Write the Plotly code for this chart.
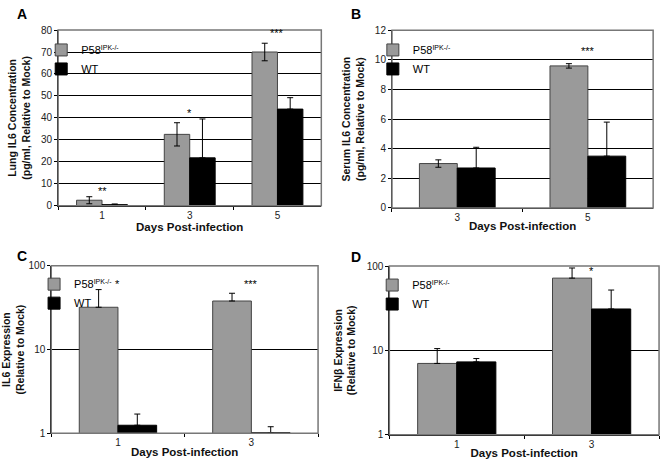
"""Four-panel IL6 / IFNb bar chart (P58IPK-/- vs WT)."""

import math

import plotly.graph_objects as go

FONT = "Liberation Sans, Arial, sans-serif"
GRAY = "#9a9a9a"
BLACK = "#000000"

# Panel A: lung IL6
a_days = ["1", "3", "5"]
a_p58 = [2.5, 32.5, 70.0]
a_p58_err = [1.6, 5.3, 4.0]
a_wt = [0.5, 21.8, 44.0]
a_wt_err = [0.3, 17.7, 5.2]
a_stars = ["**", "*", "***"]
a_star_y = [6.5, 42.0, 78.5]

# Panel B: serum IL6
b_days = ["3", "5"]
b_p58 = [3.0, 9.6]
b_p58_err = [0.25, 0.15]
b_wt = [2.7, 3.5]
b_wt_err = [1.4, 2.3]
b_stars = ["", "***"]
b_star_y = [0, 10.6]

# Panel C: IL6 expression (log)
c_days = ["1", "3"]
c_p58 = [32.0, 38.0]
c_p58_err = [20.0, 9.0]
c_wt = [1.25, 1.02]
c_wt_err = [0.45, 0.18]
c_stars = ["*", "***"]
c_star_y = [60.0, 60.0]

# Panel D: IFNb expression (log)
d_days = ["1", "3"]
d_p58 = [7.0, 72.0]
d_p58_err = [3.5, 23.0]
d_wt = [7.3, 31.0]
d_wt_err = [0.7, 21.0]
d_stars = ["", "*"]
d_star_y = [0, 88.0]

P58_NAME = "P58<sup><span style='font-size:7px'>IPK-/-</span></sup>"

panels = [
    dict(days=a_days, p58=a_p58, p58e=a_p58_err, wt=a_wt, wte=a_wt_err,
         stars=a_stars, sy=a_star_y, log=False, rng=[0, 80], dtick=10,
         title="Lung IL6 Concentration<br>(pg/ml, Relative to Mock)",
         xd=[0.0711, 0.4766], yd=[0.5591, 0.9469], letter="A",
         lx=3, ly=8.5, leg=dict(x=0.045, y=0.935)),
    dict(days=b_days, p58=b_p58, p58e=b_p58_err, wt=b_wt, wte=b_wt_err,
         stars=b_stars, sy=b_star_y, log=False, rng=[0, 12], dtick=2,
         title="Serum IL6 Concentration<br>(pg/ml, Relative to Mock)",
         xd=[0.5855, 0.9879], yd=[0.5542, 0.9462], letter="B",
         lx=343, ly=8.5, leg=dict(x=0.556, y=0.935)),
    dict(days=c_days, p58=c_p58, p58e=c_p58_err, wt=c_wt, wte=c_wt_err,
         stars=c_stars, sy=c_star_y, log=True, rng=[0, 2], dtick=1,
         title="IL6 Expression<br>(Relative to Mock)",
         xd=[0.0605, 0.4716], yd=[0.0566, 0.4265], letter="C",
         lx=3, ly=257, leg=dict(x=0.034, y=0.418)),
    dict(days=d_days, p58=d_p58, p58e=d_p58_err, wt=d_wt, wte=d_wt_err,
         stars=d_stars, sy=d_star_y, log=True, rng=[0, 2], dtick=1,
         title="IFN\u03b2 Expression<br>(Relative to Mock)",
         xd=[0.5814, 0.9970], yd=[0.0538, 0.4258], letter="D",
         lx=343, ly=258, leg=dict(x=0.555, y=0.416)),
]

fig = go.Figure()
shapes = []
annotations = []
layout = {}

for i, p in enumerate(panels):
    n = "" if i == 0 else str(i + 1)
    xa, ya = "x" + n, "y" + n
    leg = "legend" + n
    # on the log panels only the upper half of each error bar is drawn
    p58_minus = [0] * len(p["p58e"]) if p["log"] else p["p58e"]
    fig.add_trace(go.Bar(
        x=p["days"], y=p["p58"], name=P58_NAME,
        xaxis=xa, yaxis=ya, legend=leg, offsetgroup="p58",
        marker=dict(color=GRAY, line=dict(color="#444444", width=1)),
        error_y=dict(type="data", array=p["p58e"], arrayminus=p58_minus,
                     color="black", thickness=1, width=3),
    ))
    fig.add_trace(go.Bar(
        x=p["days"], y=p["wt"], name="WT",
        xaxis=xa, yaxis=ya, legend=leg, offsetgroup="wt",
        marker=dict(color=BLACK, line=dict(color="#000000", width=1)),
        error_y=dict(type="data", array=p["wte"], arrayminus=[0] * len(p["wte"]),
                     color="black", thickness=1, width=3),
    ))

    layout["xaxis" + n] = dict(
        domain=p["xd"], anchor=ya, type="category",
        range=[-0.5, len(p["days"]) - 0.5],
        showline=True, linecolor="black", linewidth=1,
        ticks="outside", tickson="boundaries", ticklen=3, tickcolor="black",
        tickfont=dict(family=FONT, size=10, color="#222"),
        title=dict(text="<b>Days Post-infection</b>", standoff=0,
                   font=dict(family=FONT, size=11.5, color="#111")),
        showgrid=False,
    )
    yax = dict(
        domain=p["yd"], anchor=xa,
        showline=True, linecolor="black", linewidth=1,
        ticks="outside", ticklen=3, tickcolor="black",
        tickfont=dict(family=FONT, size=10, color="#222"),
        title=dict(text="<b>" + p["title"] + "</b>", standoff=8,
                   font=dict(family=FONT, size=10.5, color="#111")),
        showgrid=True, gridcolor="black", gridwidth=1, zeroline=False,
    )
    if p["log"]:
        yax.update(type="log", range=p["rng"], tickvals=[1, 10, 100])
    else:
        yax.update(range=p["rng"], dtick=p["dtick"])
    layout["yaxis" + n] = yax

    layout[leg] = dict(
        x=p["leg"]["x"], y=p["leg"]["y"], xanchor="left", yanchor="top",
        bgcolor="rgba(0,0,0,0)", borderwidth=0, itemwidth=30,
        tracegroupgap=0, traceorder="normal",
        font=dict(family=FONT, size=11, color="black"),
    )

    shapes.append(dict(type="rect", xref=xa + " domain", yref=ya + " domain",
                       x0=0, x1=1, y0=0, y1=1, layer="above",
                       line=dict(color="#777777", width=1.5)))

    for k, (s, sy) in enumerate(zip(p["stars"], p["sy"])):
        if s:
            annotations.append(dict(
                x=k, y=math.log10(sy) if p["log"] else sy,
                xref=xa, yref=ya, text=s, showarrow=False,
                font=dict(family=FONT, size=11, color="black"), yanchor="middle",
            ))

    annotations.append(dict(
        x=p["lx"] / 661, y=1 - p["ly"] / 465, xref="paper", yref="paper",
        text="<b>" + p["letter"] + "</b>", showarrow=False,
        xanchor="left", yanchor="middle",
        font=dict(family=FONT, size=14, color="black"),
    ))

# white patch behind the panel A legend (hides the 70 gridline there)
shapes.append(dict(type="rect", xref="paper", yref="paper", layer="between",
                   x0=48 / 661, x1=107 / 661, y0=1 - 62 / 465, y1=1 - 28 / 465,
                   fillcolor="white", line=dict(width=0)))

fig.update_layout(
    **layout,
    width=661, height=465,
    margin=dict(l=0, r=0, t=0, b=0),
    paper_bgcolor="white", plot_bgcolor="white",
    barmode="group", bargap=0.42, bargroupgap=0,
    shapes=shapes, annotations=annotations,
    font=dict(family=FONT),
)

fig.write_html("out.html", config={"displayModeBar": False},
               post_script="document.body.style.margin='0px';")
